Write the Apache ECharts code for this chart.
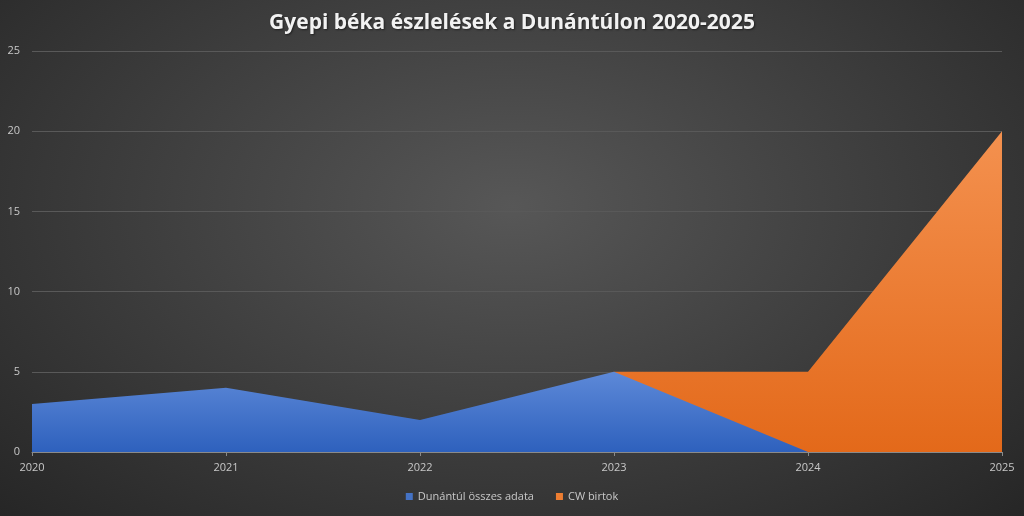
<!DOCTYPE html>
<html><head><meta charset="utf-8">
<script src="https://cdn.jsdelivr.net/npm/echarts@6/dist/echarts.min.js"></script>
<style>html,body{margin:0;padding:0;background:#333;}#c{width:1024px;height:516px;background:radial-gradient(ellipse farthest-corner at 50% 40%, #575757 0%, #3c3c3c 55%, #262626 100%);}</style>
</head><body><div id="c"></div>
<script>
const categories = ['2020','2021','2022','2023','2024','2025'];
const dunantulValues = [3, 4, 2, 5, 0, 0];
const cwValues = [0, 0, 0, 5, 5, 20];
const seriesNames = ['Dunántúl összes adata', 'CW birtok'];
const titleText = 'Gyepi béka észlelések a Dunántúlon 2020-2025';

const chart = echarts.init(document.getElementById('c'));
const grad = (top, bottom) => new echarts.graphic.LinearGradient(0,0,0,1,[{offset:0,color:top},{offset:1,color:bottom}]);
chart.setOption({
  animation: false,
  backgroundColor: 'transparent',
  title: {text: titleText, left:'center', top:8,
    textStyle:{color:'#f2f2f2', fontFamily:'Open Sans', fontWeight:'bold', fontSize:21, textShadowColor:'rgba(0,0,0,0.5)', textShadowBlur:2, textShadowOffsetX:1, textShadowOffsetY:1}},
  legend: {bottom:9, left:'center', itemWidth:7, itemHeight:7, itemGap:22, icon:'rect',
    textStyle:{color:'#c8c8c8', fontSize:11, fontFamily:'Open Sans'},
    data:[{name:seriesNames[0], itemStyle:{color:'#4472c4'}},{name:seriesNames[1], itemStyle:{color:'#ed7d31'}}]},
  grid: {left:32, right:22, top:51, bottom:64, containLabel:false},
  xAxis: {type:'category', data:categories, boundaryGap:false,
    axisLine:{lineStyle:{color:'#8a8a8a', width:1}},
    axisTick:{show:true, length:4, lineStyle:{color:'#8a8a8a'}},
    axisLabel:{color:'#c8c8c8', fontSize:11, fontFamily:'Open Sans', margin:10},
    splitLine:{show:false}},
  yAxis: {type:'value', min:0, max:25, interval:5,
    axisLine:{show:false}, axisTick:{show:false},
    axisLabel:{color:'#c8c8c8', fontSize:11, fontFamily:'Open Sans', margin:12},
    splitLine:{lineStyle:{color:'#595959', width:1}}},
  series: [
    {name:seriesNames[1], type:'line', data:cwValues, symbol:'none', z:2,
      lineStyle:{width:0}, itemStyle:{color:'#ed7d31'},
      areaStyle:{opacity:1, color:grad('#f4914f','#e3691a')}},
    {name:seriesNames[0], type:'line', data:dunantulValues, symbol:'none', z:3,
      lineStyle:{width:0}, itemStyle:{color:'#4472c4'},
      areaStyle:{opacity:1, color:grad('#5d89d8','#2e61bd')}}
  ]
});
</script></body></html>
